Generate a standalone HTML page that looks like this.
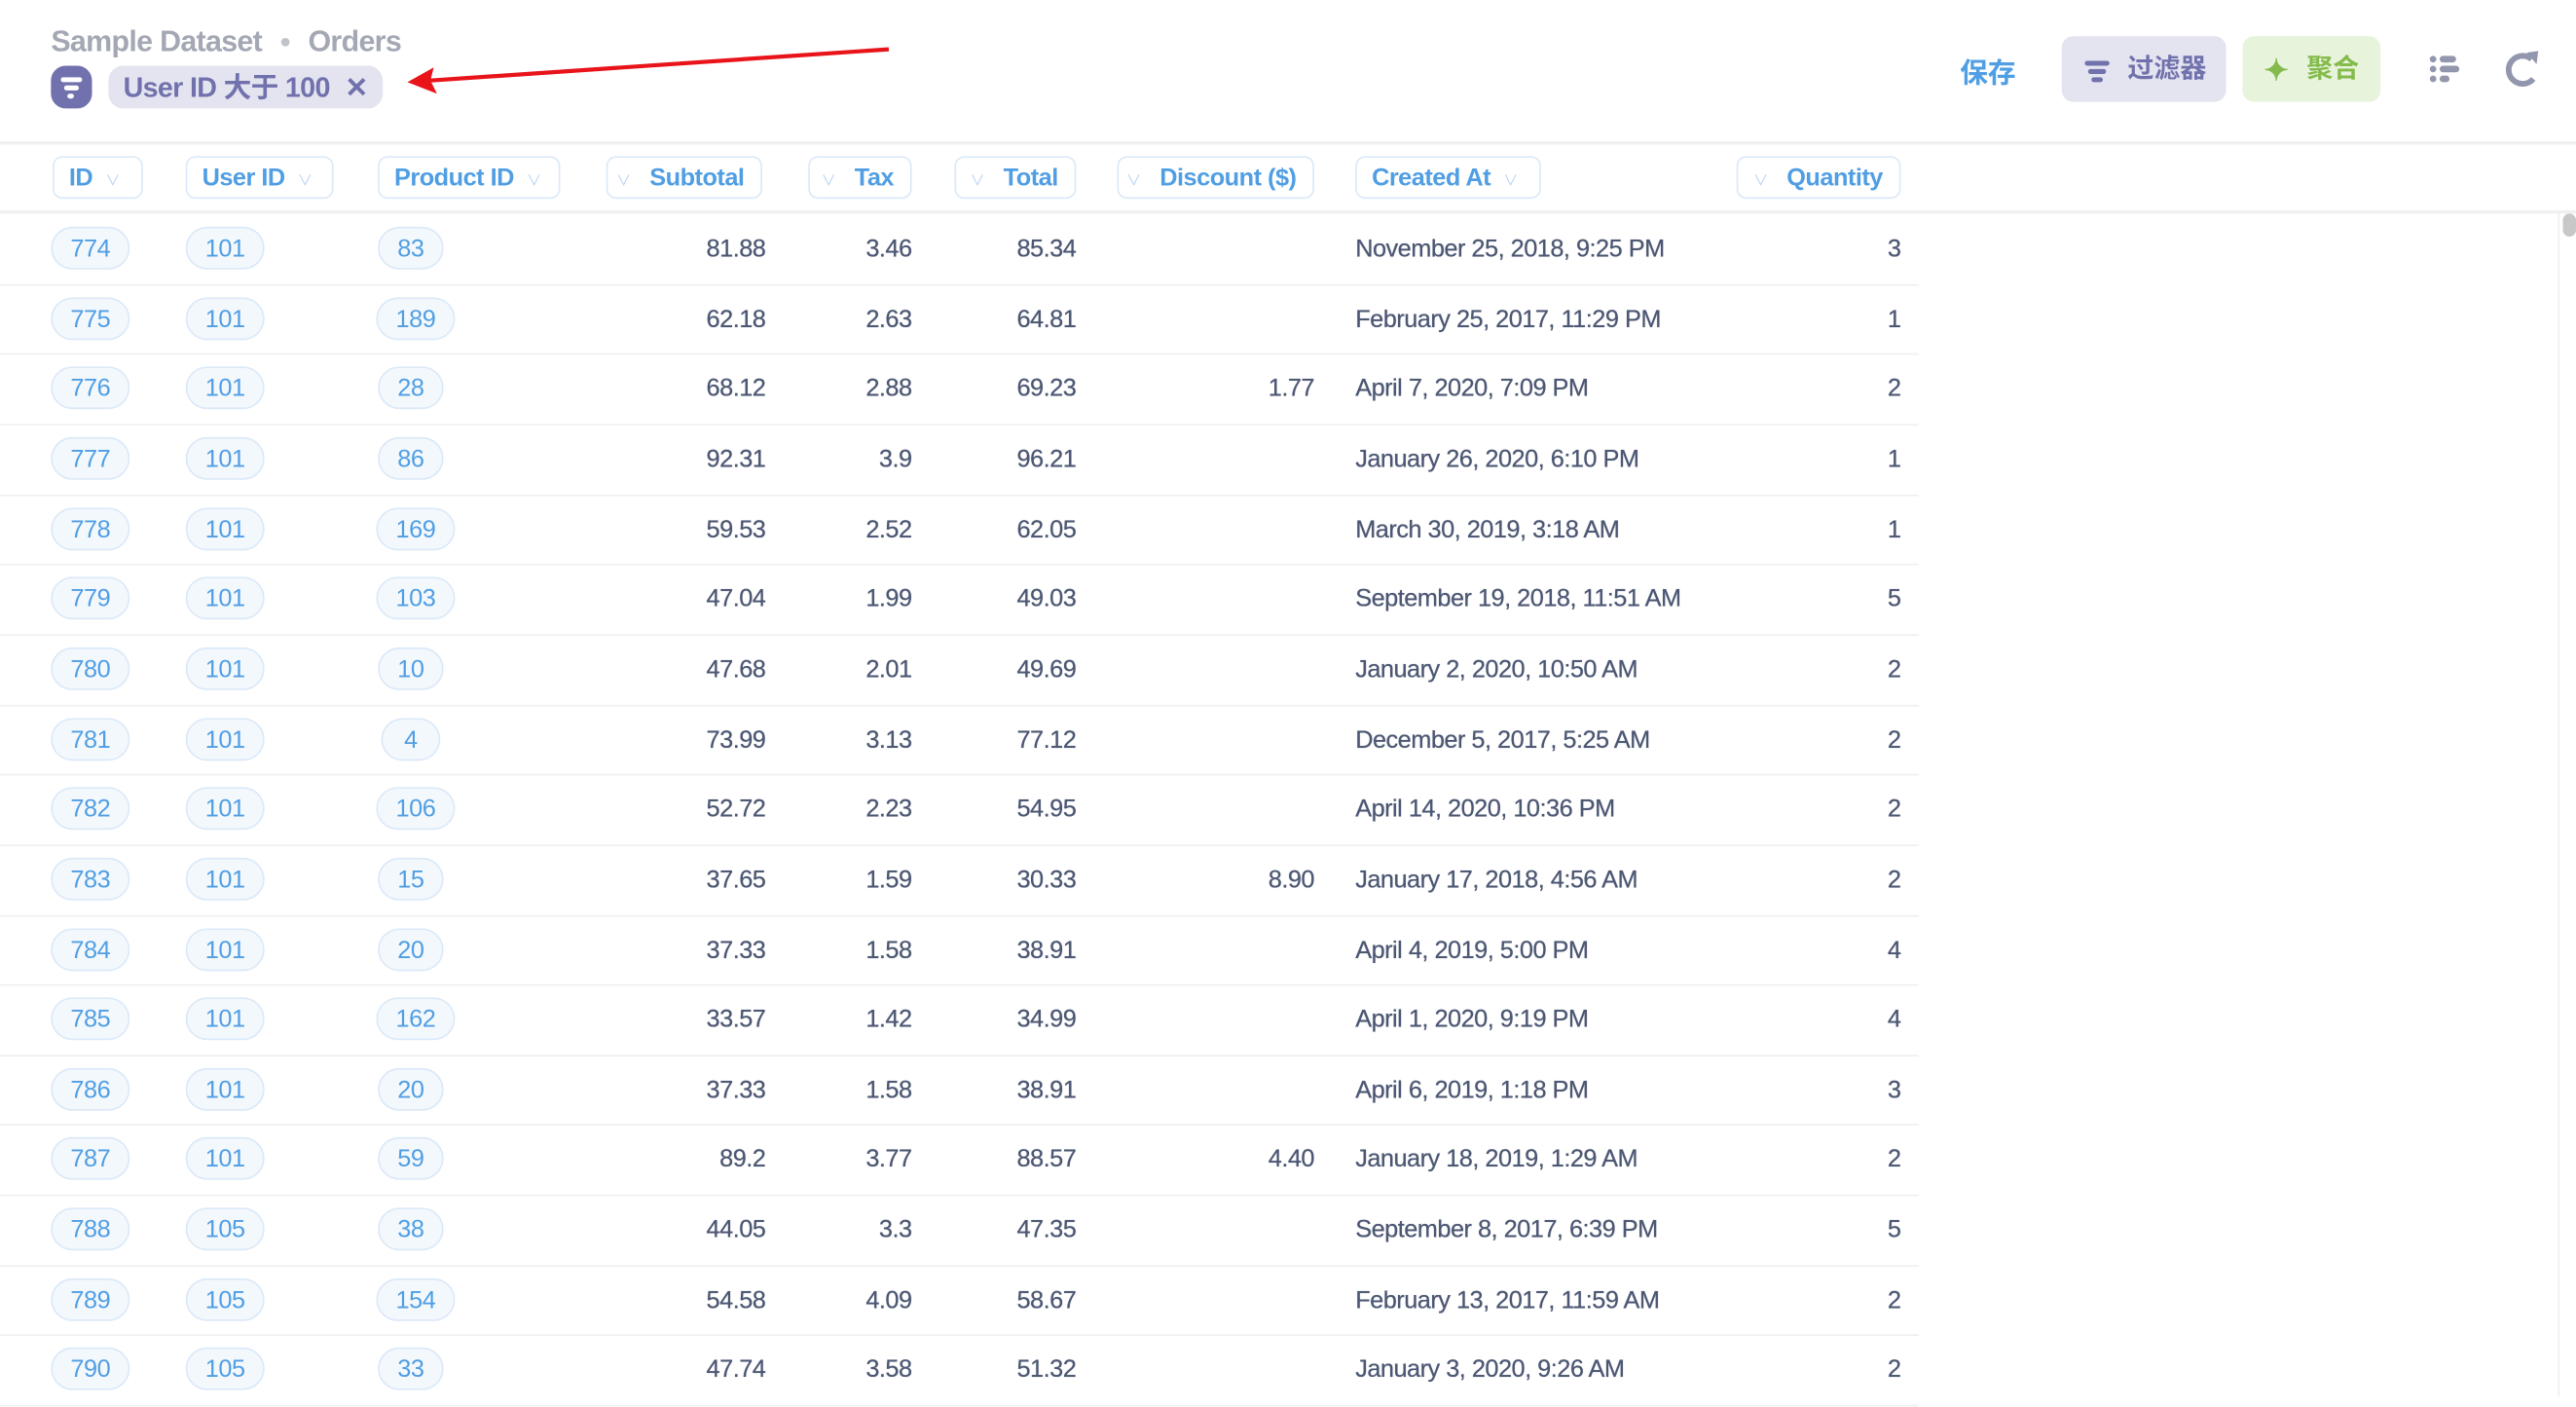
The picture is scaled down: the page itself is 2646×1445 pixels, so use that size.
<!DOCTYPE html>
<html><head><meta charset="utf-8">
<style>
html,body{margin:0;padding:0;background:#fff;overflow:hidden;}
body{width:2646px;height:1434px;}
#root{position:absolute;left:0;top:0;width:1568px;height:850px;transform:scale(1.6875);transform-origin:0 0;font-family:"Liberation Sans","Noto Sans CJK SC",sans-serif;color:#4c5773;}
.abs{position:absolute;white-space:nowrap;}
.hpill{position:absolute;top:95px;height:26px;border:1.5px solid #dbe9f8;border-radius:6px;box-sizing:border-box;color:#509ee3;font-size:15px;font-weight:bold;line-height:25px;letter-spacing:-0.3px;}
.chev{color:#b9d5f3;font-size:9px;font-weight:normal;}
.pill{position:absolute;height:26px;border:1.5px solid #dbe9f8;border-radius:13px;box-sizing:border-box;background:#f3f8fd;color:#509ee3;font-size:15px;line-height:25px;text-align:center;letter-spacing:-0.3px;}
.cell{position:absolute;font-size:15px;line-height:20px;color:#4c5773;letter-spacing:-0.3px;white-space:nowrap;text-shadow:0 0 0.4px #4c5773;}
.sep{position:absolute;left:0;width:1168px;height:1px;background:#f0f0f3;}
</style></head><body>
<div id="root">
  <div class="abs" style="left:31px;top:15px;font-size:18px;font-weight:bold;color:#a3a8b4;letter-spacing:-0.4px;">
    <span>Sample Dataset</span>
    <span style="font-size:12px;color:#c0c3cb;margin:0 6px;position:relative;top:-2px;">●</span>
    <span>Orders</span>
  </div>
  <div class="abs" style="left:31px;top:40px;width:25px;height:26px;border-radius:9px;background:#7172ad;">
    <div style="position:absolute;left:6px;top:7px;width:13px;height:3px;border-radius:2px;background:#fff;"></div>
    <div style="position:absolute;left:8px;top:12px;width:9px;height:3px;border-radius:2px;background:#fff;"></div>
    <div style="position:absolute;left:10px;top:17px;width:4px;height:3px;border-radius:2px;background:#fff;"></div>
  </div>
  <div class="abs" style="left:66px;top:40px;width:167px;height:26px;border-radius:9px;background:#e4e4f0;color:#7172ad;font-size:17px;line-height:27px;font-weight:bold;">
    <span style="margin-left:9px;letter-spacing:-0.4px;">User ID 大于 100</span>
    <span style="position:absolute;left:144px;top:0;font-size:17px;">✕</span>
  </div>
  <svg class="abs" style="left:0;top:0;" width="600" height="80">
    <line x1="541" y1="30" x2="262" y2="49" stroke="#e8141a" stroke-width="2.5"/>
    <polygon points="248,50 264,41 262,49 266,57" fill="#e8141a"/>
  </svg>
  <div class="abs" style="left:1193px;top:30px;font-size:17px;font-weight:bold;color:#509ee3;">保存</div>
  <div class="abs" style="left:1255px;top:22px;width:100px;height:40px;border-radius:7px;background:#e4e4f0;color:#7172ad;font-size:16px;font-weight:bold;line-height:42px;">
    <div style="position:absolute;left:14px;top:15px;width:15px;height:3px;border-radius:2px;background:#7172ad;"></div>
    <div style="position:absolute;left:16px;top:20px;width:11px;height:3px;border-radius:2px;background:#7172ad;"></div>
    <div style="position:absolute;left:18px;top:25px;width:7px;height:3px;border-radius:2px;background:#7172ad;"></div>
    <span style="position:absolute;left:40px;">过滤器</span>
  </div>
  <div class="abs" style="left:1365px;top:22px;width:84px;height:40px;border-radius:7px;background:#e8f3dc;color:#84bb4c;font-size:16px;font-weight:bold;line-height:42px;">
    <span style="position:absolute;left:13px;font-size:18px;">✦</span>
    <span style="position:absolute;left:39px;">聚合</span>
  </div>
  <svg class="abs" style="left:1478px;top:33px;" width="20" height="18">
    <g fill="#9397ad"><rect x="1" y="1" width="4" height="4" rx="2"/><rect x="7" y="1" width="10" height="4" rx="2"/><rect x="1" y="7" width="4" height="4" rx="2"/><rect x="7" y="7" width="12" height="4" rx="2"/><rect x="1" y="13" width="4" height="4" rx="2"/><rect x="7" y="13" width="6" height="4" rx="2"/></g>
  </svg>
  <svg class="abs" style="left:1523px;top:29px;" width="26" height="26">
    <path d="M18 7 A8.5 8.5 0 1 0 19 19" fill="none" stroke="#9397ad" stroke-width="3.5"/>
    <polygon points="15,3 22,2 21,10" fill="#9397ad"/>
  </svg>
  <div class="abs" style="left:0;top:86px;width:1568px;height:2px;background:#f0f0f3;"></div>
  <div class="abs" style="left:0;top:128px;width:1568px;height:2px;background:#f0f0f3;"></div>
  <div class="abs" style="left:1557px;top:130px;width:1px;height:720px;background:#eee;"></div>
  <div class="abs" style="left:1560px;top:130px;width:8px;height:14px;border-radius:4px;background:#c8c8c8;"></div>
  <div id="header"></div>
  <div id="rows"></div>
</div>
<script>
const colNames = ["ID","User ID","Product ID","Subtotal","Tax","Total","Discount ($)","Created At","Quantity"];
const ids = [774,775,776,777,778,779,780,781,782,783,784,785,786,787,788,789,790];
const userIds = [101,101,101,101,101,101,101,101,101,101,101,101,101,101,105,105,105];
const productIds = [83,189,28,86,169,103,10,4,106,15,20,162,20,59,38,154,33];
const subtotals = ["81.88","62.18","68.12","92.31","59.53","47.04","47.68","73.99","52.72","37.65","37.33","33.57","37.33","89.2","44.05","54.58","47.74"];
const taxes = ["3.46","2.63","2.88","3.9","2.52","1.99","2.01","3.13","2.23","1.59","1.58","1.42","1.58","3.77","3.3","4.09","3.58"];
const totals = ["85.34","64.81","69.23","96.21","62.05","49.03","49.69","77.12","54.95","30.33","38.91","34.99","38.91","88.57","47.35","58.67","51.32"];
const discounts = ["","","1.77","","","","","","","8.90","","","","4.40","","",""];
const createdAt = ["November 25, 2018, 9:25 PM","February 25, 2017, 11:29 PM","April 7, 2020, 7:09 PM","January 26, 2020, 6:10 PM","March 30, 2019, 3:18 AM","September 19, 2018, 11:51 AM","January 2, 2020, 10:50 AM","December 5, 2017, 5:25 AM","April 14, 2020, 10:36 PM","January 17, 2018, 4:56 AM","April 4, 2019, 5:00 PM","April 1, 2020, 9:19 PM","April 6, 2019, 1:18 PM","January 18, 2019, 1:29 AM","September 8, 2017, 6:39 PM","February 13, 2017, 11:59 AM","January 3, 2020, 9:26 AM"];
const quantities = [3,1,2,1,1,5,2,2,2,2,4,4,3,2,5,2,2];

const hdrL=[32,113,230,369,492,581,680,825,1057], hdrR=[87,203,341,464,555,655,800,938,1157];
const rightAligned=[false,false,false,true,true,true,true,false,true];
const header=document.getElementById('header');
colNames.forEach((n,i)=>{
  const d=document.createElement('div');
  d.className='hpill';
  
  
  d.style.left=hdrL[i]+'px'; d.style.width=(hdrR[i]-hdrL[i])+'px';
  d.style.textAlign = rightAligned[i]?'right':'left';
  d.style.padding = rightAligned[i]?'0 10px 0 0':'0 0 0 9px';
  d.innerHTML = rightAligned[i] ? '<span class="chev">∨</span>&nbsp;&nbsp;&nbsp;'+n : n+'&nbsp;&nbsp;<span class="chev">∨</span>';
  header.appendChild(d);
});
const rows=document.getElementById('rows');
const rowTop=130, rowH=42.65;
function pill(parent,cx,txt,y,name){
  const p=document.createElement('div');
  p.className='pill';
  
  
  const w=String(txt).length>=3?48:(String(txt).length==2?40:36);
  p.style.left=(cx-w/2)+'px'; p.style.width=w+'px'; p.style.top=(y-13)+'px';
  p.textContent=txt; parent.appendChild(p);
}
function cell(parent,txt,y,edge,right,name){
  const c=document.createElement('div');
  c.className='cell';
  
  
  c.style.top=(y-9)+'px';
  if(right){c.style.right=(1568-edge)+'px';} else {c.style.left=edge+'px';}
  c.textContent=txt; parent.appendChild(c);
}
ids.forEach((id,r)=>{
  const cy=rowTop+rowH*r+21;
  pill(rows,55,id,cy,'order-id-link');
  pill(rows,137,userIds[r],cy,'user-id-link');
  const pl=String(productIds[r]).length;
  pill(rows,pl>=3?253:250,productIds[r],cy,'product-id-link');
  cell(rows,subtotals[r],cy,466,true,'subtotal-cell');
  cell(rows,taxes[r],cy,555,true,'tax-cell');
  cell(rows,totals[r],cy,655,true,'total-cell');
  if(discounts[r]) cell(rows,discounts[r],cy,800,true,'discount-cell');
  cell(rows,createdAt[r],cy,825,false,'created-at-cell');
  cell(rows,quantities[r],cy,1157,true,'quantity-cell');
  const s=document.createElement('div');
  s.className='sep';
  
  
  s.style.top=(rowTop+rowH*(r+1))+'px';
  rows.appendChild(s);
});
</script>
</body></html>
